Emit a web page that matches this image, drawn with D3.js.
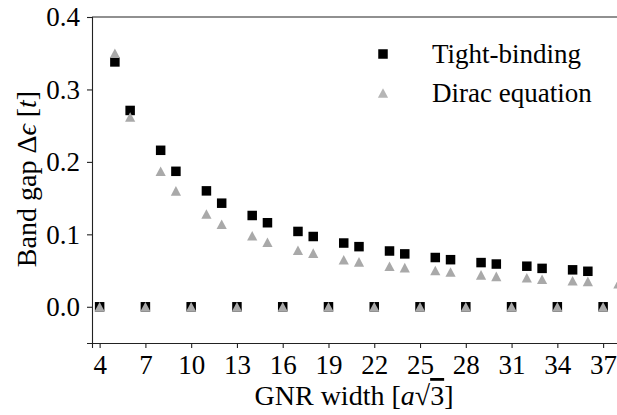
<!DOCTYPE html>
<html><head><meta charset="utf-8">
<script src="https://cdn.jsdelivr.net/npm/d3@7"></script>
<style>body{margin:0;background:#fff}svg{display:block}</style>
</head><body>
<script>
const tbWidths = [4,5,6,7,8,9,10,11,12,13,14,15,16,17,18,19,20,21,22,23,24,25,26,27,28,29,30,31,32,33,34,35,36,37];
const tbGap    = [0,0.338,0.271,0,0.216,0.187,0,0.160,0.143,0,0.126,0.116,0,0.104,0.097,0,0.088,0.083,0,0.077,0.073,0,0.068,0.065,0,0.061,0.059,0,0.056,0.053,0,0.051,0.049,0];
const diracWidths = [4,5,6,7,8,9,10,11,12,13,14,15,16,17,18,19,20,21,22,23,24,25,26,27,28,29,30,31,32,33,34,35,36,37,38];
const diracGap    = [0,0.350,0.262,0,0.187,0.160,0,0.128,0.114,0,0.098,0.089,0,0.078,0.074,0,0.065,0.062,0,0.056,0.054,0,0.050,0.048,0,0.044,0.042,0,0.040,0.038,0,0.036,0.035,0,0.032];
const xTicks = [4,7,10,13,16,19,22,25,28,31,34,37];
const yTicks = [0.0,0.1,0.2,0.3,0.4];
const seriesNames = ["Tight-binding","Dirac equation"];

const FONT = "Liberation Serif";
const FS = "27px", FL = "28px";
const W=617,H=415;
const m={left:92,top:17,right:-9,bottom:72};
const svg=d3.select("body").append("svg").attr("width",W).attr("height",H);
const x=d3.scaleLinear().domain([3.5,38.5]).range([m.left,W-m.right]);
const y=d3.scaleLinear().domain([-0.05,0.4]).range([H-m.bottom,m.top]);

const g=svg.append("g");
const tri="M0,-4.8L5.1,4.8L-5.1,4.8Z";
const sq=9.5;
g.selectAll("rect.tb").data(tbWidths.map((w,i)=>[w,tbGap[i]])).enter().append("rect")
 .attr("x",d=>x(d[0])-sq/2).attr("y",d=>y(d[1])-sq/2).attr("width",sq).attr("height",sq).attr("fill","#000");
g.selectAll("path.dr").data(diracWidths.map((w,i)=>[w,diracGap[i]])).enter().append("path")
 .attr("d",tri).attr("transform",d=>`translate(${x(d[0])},${y(d[1])})`).attr("fill","#a9a9a9");

const xa=svg.append("g").attr("transform",`translate(0,${H-m.bottom})`)
 .call(d3.axisBottom(x).tickValues(xTicks).tickSize(5).tickPadding(5).tickFormat(d3.format("d")));
const ya=svg.append("g").attr("transform",`translate(${m.left},0)`)
 .call(d3.axisLeft(y).tickValues(yTicks).tickSize(5).tickPadding(7).tickFormat(d3.format(".1f")));
[xa,ya].forEach(a=>{a.attr("font-family",FONT).attr("font-size",null);
  a.selectAll("text").attr("font-family",FONT).style("font-family",FONT).style("font-size",FS).attr("fill","#000");
  a.selectAll("line,path").attr("stroke","#222").attr("stroke-width",1.1);});
xa.selectAll("text").attr("dy","0.76em");
ya.selectAll("text").attr("dy","0.33em");
svg.append("line").attr("x1",m.left).attr("x2",W).attr("y1",y(0.4)).attr("y2",y(0.4)).attr("stroke","#222").attr("stroke-width",1.1);

function T(sel,fs){return sel.attr("font-family",FONT).style("font-family",FONT).style("font-size",fs||FS).attr("fill","#000");}
const xl=T(svg.append("text").attr("x",354).attr("y",405).attr("text-anchor","middle"),FL);
xl.append("tspan").text("GNR width [");
xl.append("tspan").text("a").style("font-style","italic");
xl.append("tspan").text("√");
xl.append("tspan").text("3").style("text-decoration","overline");
xl.append("tspan").text("]");
const yl=T(svg.append("text").attr("transform","translate(36,179) rotate(-90)").attr("text-anchor","middle"),FL);
yl.append("tspan").text("Band gap Δ");
yl.append("tspan").text("ϵ").style("font-style","italic");
yl.append("tspan").text(" [");
yl.append("tspan").text("t").style("font-style","italic");
yl.append("tspan").text("]");

const lg=svg.append("g");
lg.append("rect").attr("x",383-sq/2).attr("y",54-sq/2).attr("width",sq).attr("height",sq).attr("fill","#000");
lg.append("path").attr("d",tri).attr("transform","translate(383,93)").attr("fill","#b5b5b5");
T(lg.append("text").attr("x",432).attr("y",63)).text(seriesNames[0]);
T(lg.append("text").attr("x",432).attr("y",102)).text(seriesNames[1]);
</script>
</body></html>
